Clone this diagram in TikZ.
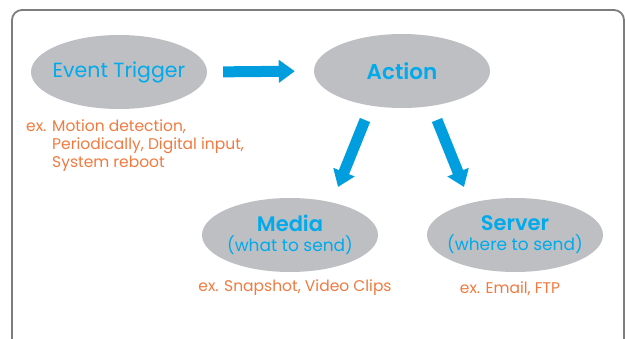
\documentclass[tikz,border=0pt]{standalone}
\usepackage{fontspec}
\setmainfont{Poppins}[BoldFont={Poppins SemiBold}]
\usetikzlibrary{arrows.meta,shapes.geometric}

\definecolor{evblue}{RGB}{0,170,235}
\definecolor{evarrow}{RGB}{0,158,222}
\definecolor{evorange}{RGB}{240,122,64}
\definecolor{evgray}{RGB}{190,191,195}
\definecolor{evframe}{RGB}{125,125,125}

\tikzset{
  blob/.style={ellipse, fill=evgray, minimum width=176pt, minimum height=74pt,
    inner sep=-30pt, text=evblue, align=center},
  fat/.style={line width=11pt, evarrow, -{Triangle[length=16pt,width=22pt]}},
  note/.style={text=evorange, font=\fontsize{15.5}{18}\selectfont, inner sep=0pt}
}

\begin{document}
\begin{tikzpicture}[x=1pt,y=-1pt]
\useasboundingbox (0,0) rectangle (625,338);
\clip (0,0) rectangle (625,338);
% frame
\draw[evframe, line width=1.8pt, rounded corners=10pt] (12,10) rectangle (624,360);

% the four ellipses
\node[blob, font=\fontsize{20.5}{24}\selectfont] (trigger) at (119,72) {Event Trigger};
\node[blob, font=\fontsize{21.5}{24}\selectfont\bfseries] (action) at (402,71) {Action};
\node[blob] (media) at (290,235) {{\fontsize{21}{24}\selectfont\bfseries Media}\\[3pt]{\fontsize{17}{20}\selectfont (what to send)}};
\node[blob] (server) at (515,235) {{\fontsize{21}{24}\selectfont\bfseries Server}\\[3pt]{\fontsize{17}{20}\selectfont (where to send)}};

% examples
\node[note, anchor=north west] (trignote) at (26,119) {%
  \begin{tabular}{@{}l@{}l@{}}\makebox[26pt][l]{ex.} & Motion detection,\\ & Periodically, Digital input,\\ & System reboot\end{tabular}};
\node[note] (medianote) at (295,288) {ex. Snapshot, Video Clips};
\node[note] (servernote) at (510,289) {ex. Email, FTP};

% arrows
\coordinate (a1) at (365,120);
\coordinate (m1) at (338,187);
\coordinate (a2) at (437,120);
\coordinate (s1) at (464,187);
\draw[fat, shorten <=16pt, shorten >=19pt] (trigger.east) -- (action.west);
\draw[fat] (a1) -- (m1);
\draw[fat] (a2) -- (s1);
\end{tikzpicture}
\end{document}
